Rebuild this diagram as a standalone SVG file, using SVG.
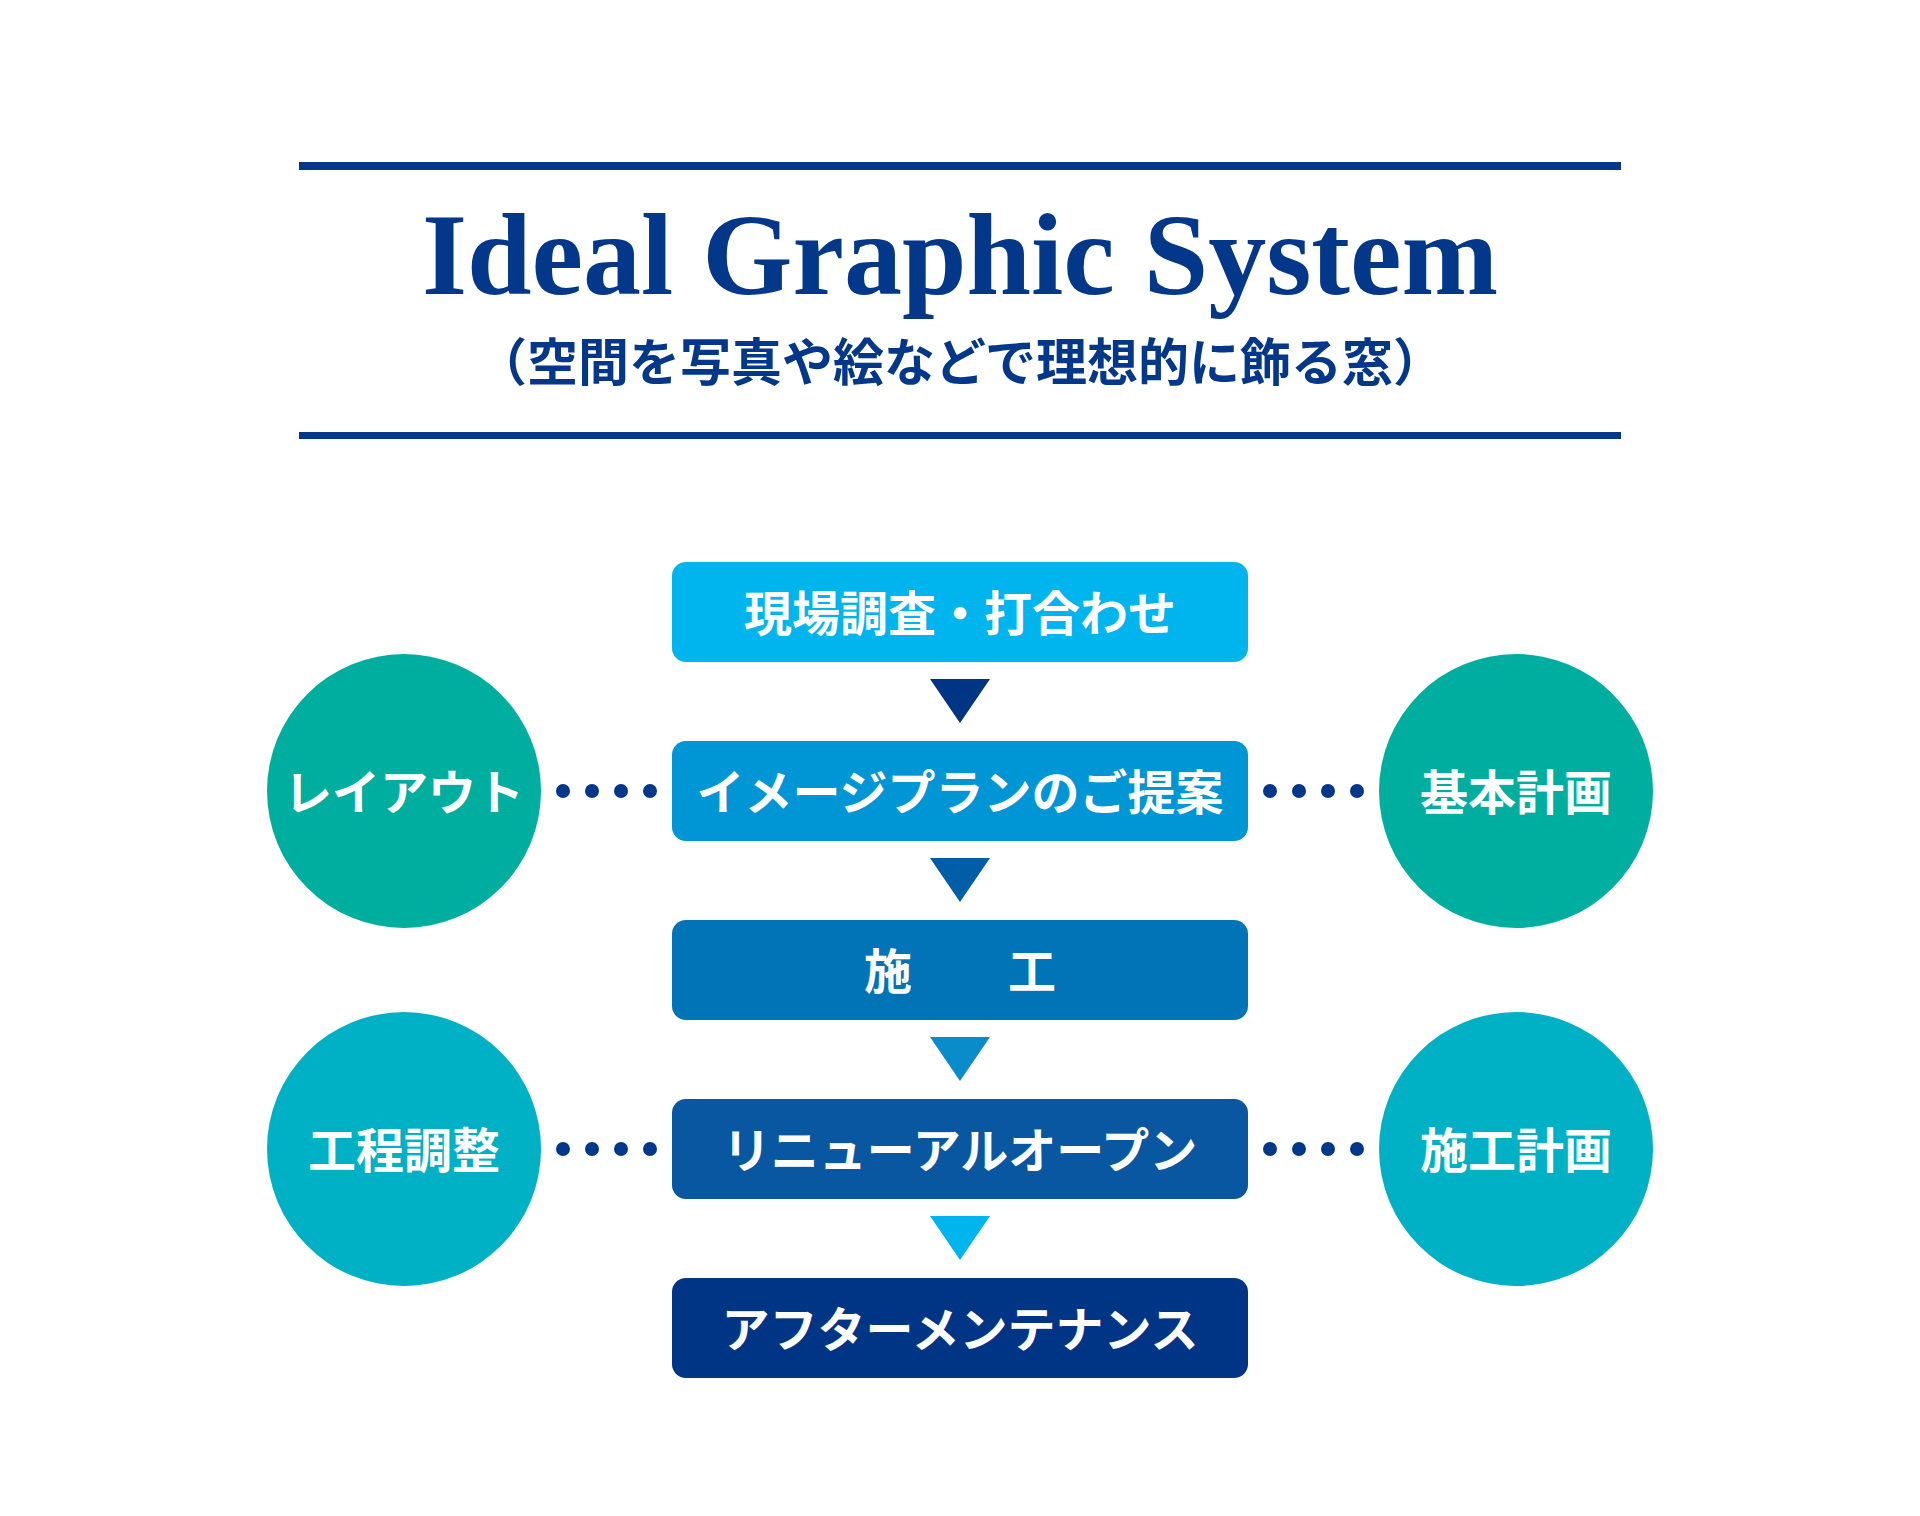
<svg xmlns="http://www.w3.org/2000/svg" width="1920" height="1516" viewBox="0 0 1920 1516">
<style>
.jp{font-family:"Noto Sans CJK JP","Noto Sans CJK SC",sans-serif;font-weight:700;fill:#fff;font-size:48px;text-anchor:middle}
.dot{fill:#03378a}
.tri{stroke:none}
</style>
<rect width="1920" height="1516" fill="#fff"/>
<g id="header">
<rect x="299" y="162" width="1322" height="8" fill="#03378a"/>
<rect x="299" y="432" width="1322" height="7" fill="#03378a"/>
<text x="960" y="294" font-family="Liberation Serif,serif" font-weight="700" font-size="116" fill="#03378a" text-anchor="middle">Ideal Graphic System</text>
<text x="960" y="381" font-family="Noto Sans CJK JP,sans-serif" font-weight="700" font-size="51" fill="#03378a" text-anchor="middle">（空間を写真や絵などで理想的に飾る窓）</text>
</g>
<g id="connectors">
<polygon class="tri" points="930,679 990,679 960,723" fill="#003586"/>
<polygon class="tri" points="930,858 990,858 960,902" fill="#005ea8"/>
<polygon class="tri" points="930,1037 990,1037 960,1081" fill="#0a8bca"/>
<polygon class="tri" points="930,1216 990,1216 960,1260" fill="#00b4ed"/>
<g class="dot">
<circle cx="563" cy="791" r="7"/><circle cx="592" cy="791" r="7"/><circle cx="621" cy="791" r="7"/><circle cx="650" cy="791" r="7"/>
<circle cx="1270" cy="791" r="7"/><circle cx="1299" cy="791" r="7"/><circle cx="1328" cy="791" r="7"/><circle cx="1357" cy="791" r="7"/>
<circle cx="563" cy="1149" r="7"/><circle cx="592" cy="1149" r="7"/><circle cx="621" cy="1149" r="7"/><circle cx="650" cy="1149" r="7"/>
<circle cx="1270" cy="1149" r="7"/><circle cx="1299" cy="1149" r="7"/><circle cx="1328" cy="1149" r="7"/><circle cx="1357" cy="1149" r="7"/>
</g>
</g>
<g id="step1"><rect x="672" y="562" width="576" height="100" rx="14" fill="#00b4ed"/><text class="jp" x="960" y="631">現場調査・打合わせ</text></g>
<g id="step2"><rect x="672" y="741" width="576" height="100" rx="14" fill="#0095d4"/><text class="jp" x="960" y="810">イメージプランのご提案</text></g>
<g id="step3"><rect x="672" y="920" width="576" height="100" rx="14" fill="#0074b6"/><text class="jp" x="960" y="989">施　　工</text></g>
<g id="step4"><rect x="672" y="1099" width="576" height="100" rx="14" fill="#0957a0"/><text class="jp" x="960" y="1168">リニューアルオープン</text></g>
<g id="step5"><rect x="672" y="1278" width="576" height="100" rx="14" fill="#003586"/><text class="jp" x="960" y="1347">アフターメンテナンス</text></g>
<g id="layout"><circle cx="404" cy="791" r="137" fill="#00ae9f"/><text class="jp" x="404" y="810">レイアウト</text></g>
<g id="kihon"><circle cx="1516" cy="791" r="137" fill="#00ae9f"/><text class="jp" x="1516" y="810">基本計画</text></g>
<g id="koutei"><circle cx="404" cy="1149" r="137" fill="#00b0c4"/><text class="jp" x="404" y="1168">工程調整</text></g>
<g id="sekou"><circle cx="1516" cy="1149" r="137" fill="#00b0c4"/><text class="jp" x="1516" y="1168">施工計画</text></g>
</svg>
